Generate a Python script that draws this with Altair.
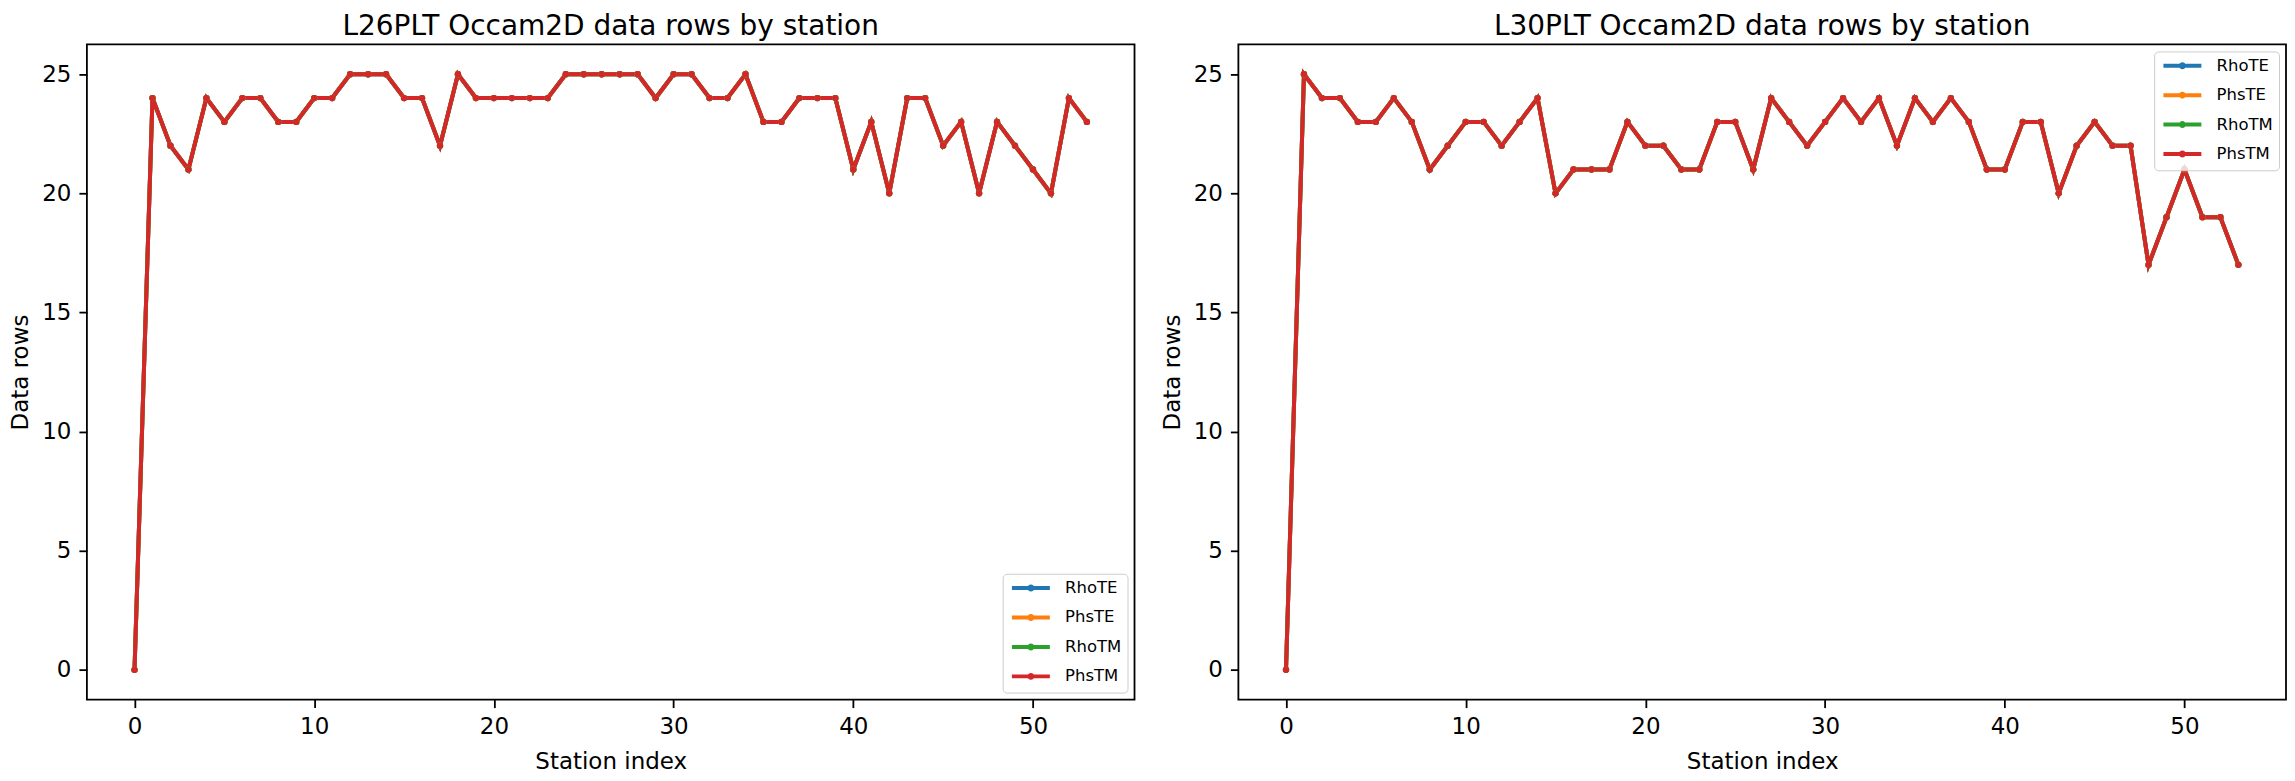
import altair as alt
import pandas as pd

stations = list(range(54))
l26_rows = [0, 24, 22, 21, 24, 23, 24, 24, 23, 23,
            24, 24, 25, 25, 25, 24, 24, 22, 25, 24,
            24, 24, 24, 24, 25, 25, 25, 25, 25, 24,
            25, 25, 24, 24, 25, 23, 23, 24, 24, 24,
            21, 23, 20, 24, 24, 22, 23, 20, 23, 22,
            21, 20, 24, 23]
l30_rows = [0, 25, 24, 24, 23, 23, 24, 23, 21, 22,
            23, 23, 22, 23, 24, 20, 21, 21, 21, 23,
            22, 22, 21, 21, 23, 23, 21, 24, 23, 22,
            23, 24, 23, 24, 22, 24, 23, 24, 23, 21,
            21, 23, 23, 20, 22, 23, 22, 22, 17, 19,
            21, 19, 19, 17]
series = ["RhoTE", "PhsTE", "RhoTM", "PhsTM"]
colors = ["#1f77b4", "#ff7f0e", "#2ca02c", "#d62728"]
x_ticks = [0, 10, 20, 30, 40, 50]
y_ticks = [0, 5, 10, 15, 20, 25]
titles = ["L26PLT Occam2D data rows by station", "L30PLT Occam2D data rows by station"]

FONT = "DejaVu Sans"
W, H = 1049, 656
# legend swatch: a short line with a dot in its middle
SWATCH = "M-3.8,0H3.8M-0.3,0A0.3,0.3 0 1,1 0.3,0A0.3,0.3 0 1,1 -0.3,0"


def panel(title, rows, orient):
    df = pd.DataFrame({
        "station": stations * len(series),
        "rows": rows * len(series),
        "series": [s for s in series for _ in stations],
    })
    return alt.Chart(df).mark_line(
        strokeWidth=4,
        point=alt.OverlayMarkDef(size=40, filled=True, opacity=1),
    ).encode(
        x=alt.X("station:Q",
                scale=alt.Scale(domain=[-2.65, 55.65], nice=False, zero=False),
                axis=alt.Axis(values=x_ticks, title="Station index", titlePadding=12)),
        y=alt.Y("rows:Q",
                scale=alt.Scale(domain=[-1.25, 26.25], nice=False, zero=False),
                axis=alt.Axis(values=y_ticks, title="Data rows", titlePadding=9)),
        color=alt.Color("series:N", sort=series,
                        scale=alt.Scale(domain=series, range=colors),
                        legend=alt.Legend(title=None, orient=orient, offset=7)),
    ).properties(
        width=W, height=H,
        title=alt.TitleParams(title, fontSize=28, font=FONT, fontWeight="normal",
                              color="black", offset=3),
    )


chart = alt.hconcat(
    panel(titles[0], l26_rows, "bottom-right"),
    panel(titles[1], l30_rows, "top-right"),
    spacing=24,
).resolve_legend(color="independent").properties(
    padding={"top": 4, "left": 0, "right": 0, "bottom": 0}, background="white"
).configure_view(
    stroke="black", strokeWidth=1.8
).configure_axis(
    domain=False, grid=False,
    tickColor="black", tickWidth=1.8, tickSize=8,
    labelFont=FONT, labelFontSize=23, labelColor="black", labelPadding=8,
    titleFont=FONT, titleFontSize=23, titleColor="black", titleFontWeight="normal",
).configure_legend(
    strokeColor="#cccccc", fillColor="rgba(255,255,255,0.8)", padding=6,
    cornerRadius=4, labelFont=FONT, labelFontSize=16.5, labelColor="black",
    symbolType=SWATCH, symbolStrokeWidth=4, symbolSize=100, symbolOffset=14,
    labelOffset=26, rowPadding=9.5,
)

chart.save("out.html", embed_options={"renderer": "svg", "actions": False})
